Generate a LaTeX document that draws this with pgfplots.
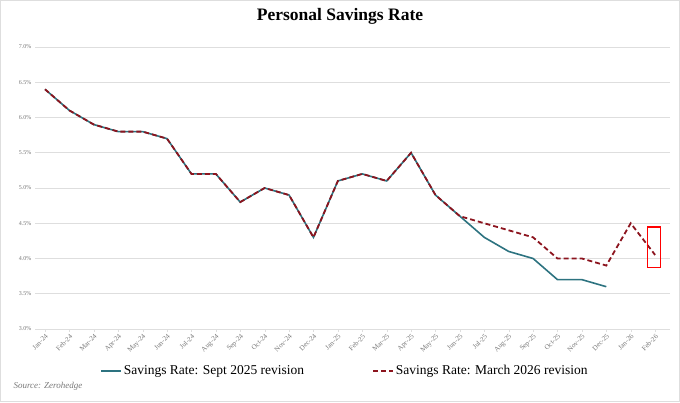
\documentclass[border=0pt]{standalone}
\usepackage{pgfplots}
\pgfplotsset{compat=1.18}
\usepackage{fontspec}
\setmainfont{Liberation Serif}
\definecolor{tealc}{RGB}{45,115,128}
\definecolor{redc}{RGB}{140,20,30}
\definecolor{gridc}{RGB}{222,222,222}
\definecolor{labc}{RGB}{120,120,120}
\begin{document}
\begin{tikzpicture}[x=1pt,y=1pt]
\path[use as bounding box] (0,0) rectangle (680,402);
\draw[gridc,line width=0.8pt] (0.4,0.4) rectangle (679.6,401.6);
\node[font=\bfseries\fontsize{17.5}{20}\selectfont] at (340,386) {Personal Savings Rate};
\begin{axis}[
  at={(35pt,73pt)}, anchor=south west, scale only axis,
  width=635pt, height=282pt,
  xmin=-0.41, xmax=25.61, ymin=3, ymax=7,
  axis x line*=bottom, axis y line*=left,
  x axis line style={draw=gridc,line width=0.8pt},
  y axis line style={draw=none},
  ytick={3,3.5,...,7}, ymajorgrids, grid style={gridc,line width=0.8pt},
  ytick style={draw=none},
  yticklabel={\pgfmathprintnumber[fixed,fixed zerofill,precision=1]{\tick}\%},
  yticklabel style={font=\fontsize{6}{7}\selectfont,text=labc},
  xtick={0,...,25},
  xticklabels={Jan-24,Feb-24,Mar-24,Apr-24,May-24,Jun-24,Jul-24,Aug-24,Sep-24,Oct-24,Nov-24,Dec-24,Jan-25,Feb-25,Mar-25,Apr-25,May-25,Jun-25,Jul-25,Aug-25,Sep-25,Oct-25,Nov-25,Dec-25,Jan-26,Feb-26},
  xticklabel style={font=\fontsize{7}{8}\selectfont,text=labc,rotate=45,anchor=north east,inner sep=1pt},
  major tick length=3pt, xtick style={draw=gridc},
  xtick align=outside,
  /pgf/number format/assume math mode=true,
  legend style={at={(0.488,-0.149)}, anchor=center, draw=none, fill=none,
    font=\fontsize{13.5}{15}\selectfont, legend columns=2,
    /tikz/every even column/.append style={column sep=66pt}},
  legend cell align=left,
  legend image code/.code={\draw[#1] (0pt,0pt) -- (20pt,0pt);},
]
\addplot[tealc, line width=1.6pt] coordinates {
(0,6.4)(1,6.1)(2,5.9)(3,5.8)(4,5.8)(5,5.7)(6,5.2)(7,5.2)(8,4.8)(9,5.0)(10,4.9)(11,4.3)
(12,5.1)(13,5.2)(14,5.1)(15,5.5)(16,4.9)(17,4.6)(18,4.3)(19,4.1)(20,4.0)(21,3.7)(22,3.7)(23,3.6)};
\addlegendentry{Savings Rate: Sept 2025 revision}
\addplot[redc, line width=1.8pt, dash pattern=on 5pt off 3pt] coordinates {
(0,6.4)(1,6.1)(2,5.9)(3,5.8)(4,5.8)(5,5.7)(6,5.2)(7,5.2)(8,4.8)(9,5.0)(10,4.9)(11,4.3)
(12,5.1)(13,5.2)(14,5.1)(15,5.5)(16,4.9)(17,4.6)(18,4.5)(19,4.4)(20,4.3)(21,4.0)(22,4.0)(23,3.9)(24,4.5)(25,4.05)};
\addlegendentry{Savings Rate: March 2026 revision}
\draw[red, line width=1.5pt] (axis cs:24.68,4.45) rectangle (axis cs:25.22,3.87);
\end{axis}
\node[anchor=west, font=\itshape\fontsize{9}{10}\selectfont, text=labc] at (10,16) {Source: Zerohedge};
\end{tikzpicture}
\end{document}
